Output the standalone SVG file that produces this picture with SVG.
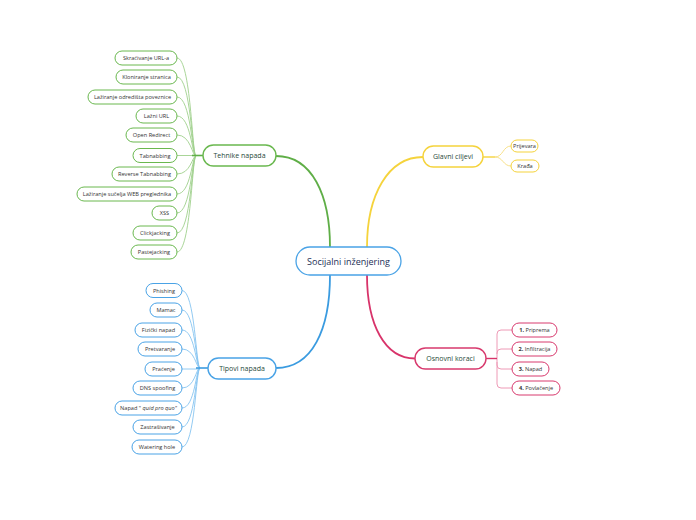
<svg xmlns="http://www.w3.org/2000/svg" width="696" height="520" viewBox="0 0 696 520">
<style>
text{font-family:"Open Sans","Liberation Sans",sans-serif;text-anchor:middle;dominant-baseline:central}
.leaf text{font-size:5.6px;fill:#333}
.leaf rect{fill:#fff;stroke-width:1}
.g rect{stroke:#6ab84f}.y rect{stroke:#f5d33c}.p rect{stroke:#d83a6e}.b rect{stroke:#4aa3e6}
.main rect{fill:#fff;stroke-width:1.4}
.main text{font-size:7px;fill:#1f4a3a}
.cg{stroke:#9fd08c;stroke-width:0.9}.cy{stroke:#f6dc7a;stroke-width:0.9}.cp{stroke:#ee9ab6;stroke-width:1}.cb{stroke:#86c4f0;stroke-width:0.9}
</style>
<rect width="696" height="520" fill="#fff"/>
<g id="connectors">
<path d="M330,247 C330,195 312,156 276,156" stroke="#5fae47" stroke-width="1.8" fill="none"/>
<path d="M367,247 C367,195 388,157 423,157" stroke="#f5d33c" stroke-width="1.8" fill="none"/>
<path d="M330,275 C330,330 312,368 276,368" stroke="#3a9be0" stroke-width="1.8" fill="none"/>
<path d="M367,275 C367,325 385,358.5 415,358.5" stroke="#d8336a" stroke-width="1.8" fill="none"/>
<g class="cg" fill="none">
<path d="M177,58 C191,58 192,156 196,156"/>
<path d="M177,77 C191,77 192,156 196,156"/>
<path d="M177,97 C191,97 192,156 196,156"/>
<path d="M177,116 C191,116 192,156 196,156"/>
<path d="M177,135 C191,135 192,156 196,156"/>
<path d="M177,155.5 H196"/>
<path d="M177,174 C191,174 192,156 196,156"/>
<path d="M177,194 C191,194 192,156 196,156"/>
<path d="M177,213 C191,213 192,156 196,156"/>
<path d="M177,233 C191,233 192,156 196,156"/>
<path d="M177,252 C191,252 192,156 196,156"/>
</g>
<path d="M192,155.5 H203" stroke="#5fae47" stroke-width="1.6" fill="none"/>
<g class="cb" fill="none">
<path d="M182,290.5 C195,290.5 196,368 200,368"/>
<path d="M182,310 C195,310 196,368 200,368"/>
<path d="M182,330 C195,330 196,368 200,368"/>
<path d="M182,349 C195,349 196,368 200,368"/>
<path d="M182,369 H200"/>
<path d="M182,388 C195,388 196,368 200,368"/>
<path d="M182,408 C195,408 196,368 200,368"/>
<path d="M182,427 C195,427 196,368 200,368"/>
<path d="M182,447 C195,447 196,368 200,368"/>
</g>
<path d="M196,368 H208" stroke="#3a9be0" stroke-width="1.6" fill="none"/>
<g class="cy" fill="none">
<path d="M495,157 C503,157 503,146 511,146"/>
<path d="M495,157 C503,157 503,166 511,166"/>
</g>
<path d="M483,157 H495" stroke="#f5d33c" stroke-width="1.4" fill="none"/>
<g class="cp" fill="none">
<path d="M512,330 H501 Q497,330 497,334 V354"/>
<path d="M512,349 H501 Q497,349 497,353 V358"/>
<path d="M512,369 H501 Q497,369 497,365 V358"/>
<path d="M512,388 H501 Q497,388 497,384 V362"/>
</g>
<path d="M486,358.5 H497" stroke="#d8336a" stroke-width="1.4" fill="none"/>
</g>
<g id="center">
<rect x="296" y="247" width="105" height="28" rx="14" fill="#fff" stroke="#4aa3e6" stroke-width="1.3"/>
<text x="348.5" y="261" style="font-size:9px;fill:#1c2f55">Socijalni inženjering</text>
</g>
<g id="tehnike" class="main g"><rect x="203" y="145" width="73" height="21" rx="10.5"/><text x="239.5" y="155.5">Tehnike napada</text></g>
<g id="glavni" class="main y"><rect x="423" y="146" width="60" height="21" rx="10.5"/><text x="453" y="156.5">Glavni ciljevi</text></g>
<g id="osnovni" class="main p"><rect x="415" y="348" width="71" height="21" rx="10.5"/><text x="450.5" y="358.5">Osnovni koraci</text></g>
<g id="tipovi" class="main b"><rect x="208" y="358" width="68" height="21" rx="10.5"/><text x="242" y="368.5">Tipovi napada</text></g>
<g id="t1" class="leaf g"><rect x="115" y="51" width="62" height="14" rx="7"/><text x="146" y="58">Skraćivanje URL-a</text></g>
<g id="t2" class="leaf g"><rect x="116" y="70" width="61" height="14" rx="7"/><text x="146.5" y="77">Kloniranje stranica</text></g>
<g id="t3" class="leaf g"><rect x="88" y="90" width="89" height="14" rx="7"/><text x="132.5" y="97">Lažiranje odredišta poveznice</text></g>
<g id="t4" class="leaf g"><rect x="136" y="109" width="41" height="14" rx="7"/><text x="156.5" y="116">Lažni URL</text></g>
<g id="t5" class="leaf g"><rect x="126" y="128" width="51" height="14" rx="7"/><text x="151.5" y="135">Open Redirect</text></g>
<g id="t6" class="leaf g"><rect x="133" y="148.5" width="44" height="14" rx="7"/><text x="155" y="155.5">Tabnabbing</text></g>
<g id="t7" class="leaf g"><rect x="112" y="167" width="65" height="14" rx="7"/><text x="144.5" y="174">Reverse Tabnabbing</text></g>
<g id="t8" class="leaf g"><rect x="77" y="187" width="100" height="14" rx="7"/><text x="127" y="194">Lažiranje sučelja WEB preglednika</text></g>
<g id="t9" class="leaf g"><rect x="152" y="206" width="25" height="14" rx="7"/><text x="164.5" y="213">XSS</text></g>
<g id="t10" class="leaf g"><rect x="133" y="226" width="44" height="14" rx="7"/><text x="155" y="233">Clickjacking</text></g>
<g id="t11" class="leaf g"><rect x="131" y="245" width="46" height="14" rx="7"/><text x="154" y="252">Pastejacking</text></g>
<g id="g1" class="leaf y"><rect x="511" y="140" width="27" height="12" rx="6"/><text x="524.5" y="146">Prijevara</text></g>
<g id="g2" class="leaf y"><rect x="511" y="160" width="28" height="12" rx="6"/><text x="525" y="166">Krađa</text></g>
<g id="o1" class="leaf p"><rect x="512" y="323" width="45" height="14" rx="7"/><text x="534.5" y="330"><tspan font-weight="bold">1.</tspan> Priprema</text></g>
<g id="o2" class="leaf p"><rect x="512" y="342" width="45" height="14" rx="7"/><text x="534.5" y="349"><tspan font-weight="bold">2.</tspan> Infiltracija</text></g>
<g id="o3" class="leaf p"><rect x="512" y="362" width="37" height="14" rx="7"/><text x="530.5" y="369"><tspan font-weight="bold">3.</tspan> Napad</text></g>
<g id="o4" class="leaf p"><rect x="512" y="381" width="48" height="14" rx="7"/><text x="536" y="388"><tspan font-weight="bold">4.</tspan> Povlačenje</text></g>
<g id="p1" class="leaf b"><rect x="146" y="283.5" width="36" height="14" rx="7"/><text x="164" y="290.5">Phishing</text></g>
<g id="p2" class="leaf b"><rect x="150" y="303" width="32" height="14" rx="7"/><text x="166" y="310">Mamac</text></g>
<g id="p3" class="leaf b"><rect x="135" y="323" width="47" height="14" rx="7"/><text x="158.5" y="330">Fizički napad</text></g>
<g id="p4" class="leaf b"><rect x="138" y="342" width="44" height="14" rx="7"/><text x="160" y="349">Pretvaranje</text></g>
<g id="p5" class="leaf b"><rect x="145" y="362" width="37" height="14" rx="7"/><text x="163.5" y="369">Praćenje</text></g>
<g id="p6" class="leaf b"><rect x="133" y="381" width="49" height="14" rx="7"/><text x="157.5" y="388">DNS spoofing</text></g>
<g id="p7" class="leaf b"><rect x="115" y="401" width="67" height="14" rx="7"/><text x="148.5" y="408">Napad " <tspan font-style="italic">quid pro quo"</tspan></text></g>
<g id="p8" class="leaf b"><rect x="133" y="420" width="49" height="14" rx="7"/><text x="157.5" y="427">Zastrašivanje</text></g>
<g id="p9" class="leaf b"><rect x="132" y="440" width="50" height="14" rx="7"/><text x="157" y="447">Watering hole</text></g>
</svg>
